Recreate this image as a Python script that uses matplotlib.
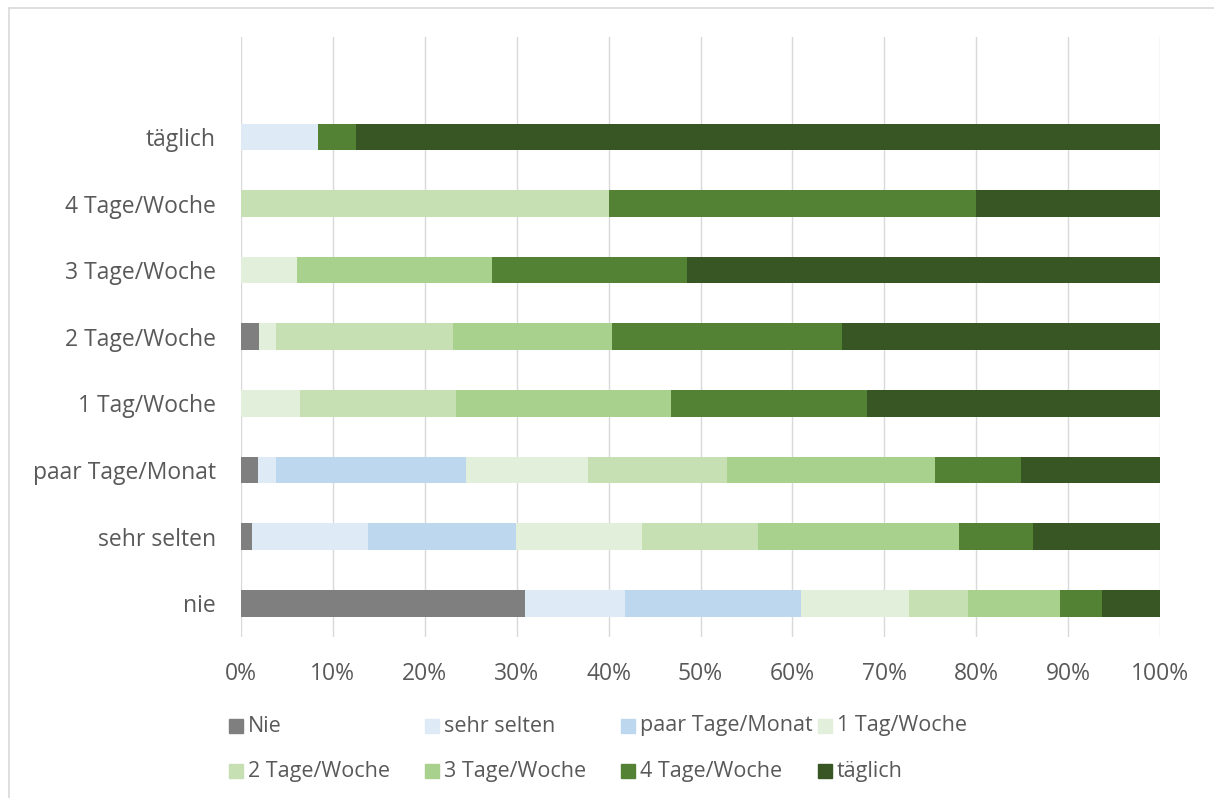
import numpy as np
import matplotlib
matplotlib.use("Agg")
import matplotlib.pyplot as plt
from matplotlib.patches import Rectangle
from matplotlib.lines import Line2D
from matplotlib.ticker import PercentFormatter

# categories, bottom to top
categories = ["nie", "sehr selten", "paar Tage/Monat", "1 Tag/Woche",
              "2 Tage/Woche", "3 Tage/Woche", "4 Tage/Woche", "täglich"]

series_names = ["Nie", "sehr selten", "paar Tage/Monat", "1 Tag/Woche",
                "2 Tage/Woche", "3 Tage/Woche", "4 Tage/Woche", "täglich"]

# shares in percent, one value per category
nie_vals = [30.91, 1.15, 1.89, 0, 1.92, 0, 0, 0]
sehr_selten_vals = [10.91, 12.64, 1.89, 0, 0, 0, 0, 8.33]
paar_monat_vals = [19.09, 16.09, 20.75, 0, 0, 0, 0, 0]
tag1_vals = [11.82, 13.79, 13.21, 6.38, 1.92, 6.06, 0, 0]
tage2_vals = [6.36, 12.64, 15.09, 17.02, 19.23, 0, 40.0, 0]
tage3_vals = [10.0, 21.84, 22.64, 23.40, 17.31, 21.21, 0, 0]
tage4_vals = [4.55, 8.05, 9.43, 21.28, 25.0, 21.21, 40.0, 4.17]
taeglich_vals = [6.36, 13.79, 15.09, 31.91, 34.62, 51.52, 20.0, 87.5]

all_vals = [nie_vals, sehr_selten_vals, paar_monat_vals, tag1_vals,
            tage2_vals, tage3_vals, tage4_vals, taeglich_vals]

colors = ["#7F7F7F", "#DEEBF7", "#BDD7EE", "#E2EFDA",
          "#C6E0B4", "#A9D18E", "#548235", "#375623"]

TXT = "#595959"
GRID = "#D9D9D9"
plt.rcParams['font.family'] = ['Open Sans', 'DejaVu Sans']

W, H = 1214, 798
fig = plt.figure(figsize=(W / 100, H / 100), dpi=100)
ax = fig.add_axes([241 / W, 1 - 636.5 / H, (1160 - 241) / W, (636.5 - 37) / H])

y = np.arange(len(categories))
left = np.zeros(len(categories))
for name, vals, col in zip(series_names, all_vals, colors):
    vals = np.array(vals, dtype=float)
    ax.barh(y, vals, left=left, height=0.4, color=col, label=name, zorder=2)
    left += vals

ax.set_xlim(0, 100)
ax.set_ylim(-0.5, 8.5)
ax.set_xticks(np.arange(0, 101, 10))
ax.xaxis.set_major_formatter(PercentFormatter(decimals=0))
ax.set_yticks(y)
ax.set_yticklabels(categories)
ax.grid(axis="x", color=GRID, linewidth=1.0, zorder=0)
ax.set_axisbelow(True)
for s in ax.spines.values():
    s.set_visible(False)
ax.tick_params(axis="x", length=0, pad=18, labelsize=16.5, labelcolor=TXT)
ax.tick_params(axis="y", length=0, pad=18, labelsize=16.5, labelcolor=TXT)

# legend drawn by hand (two rows of four)
col_x = [229, 425, 621, 818]
row_y = [726, 771]
for i, (name, col) in enumerate(zip(series_names, colors)):
    cx = col_x[i % 4]
    cy = row_y[i // 4]
    fig.patches.append(Rectangle((cx / W, 1 - (cy + 7) / H), 14 / W, 14 / H,
                                 transform=fig.transFigure, color=col))
    fig.text((cx + 19) / W, 1 - cy / H, name, ha="left", va="center",
             fontsize=15.5, color=TXT)

# chart frame (top and left edge visible)
fig.lines.append(Line2D([9 / W, 9 / W], [0, 1 - 8 / H], transform=fig.transFigure,
                        color=GRID, linewidth=1.2))
fig.lines.append(Line2D([9 / W, 1], [1 - 8 / H, 1 - 8 / H], transform=fig.transFigure,
                        color=GRID, linewidth=1.2))

fig.savefig("out.png", dpi=100, facecolor="white")
